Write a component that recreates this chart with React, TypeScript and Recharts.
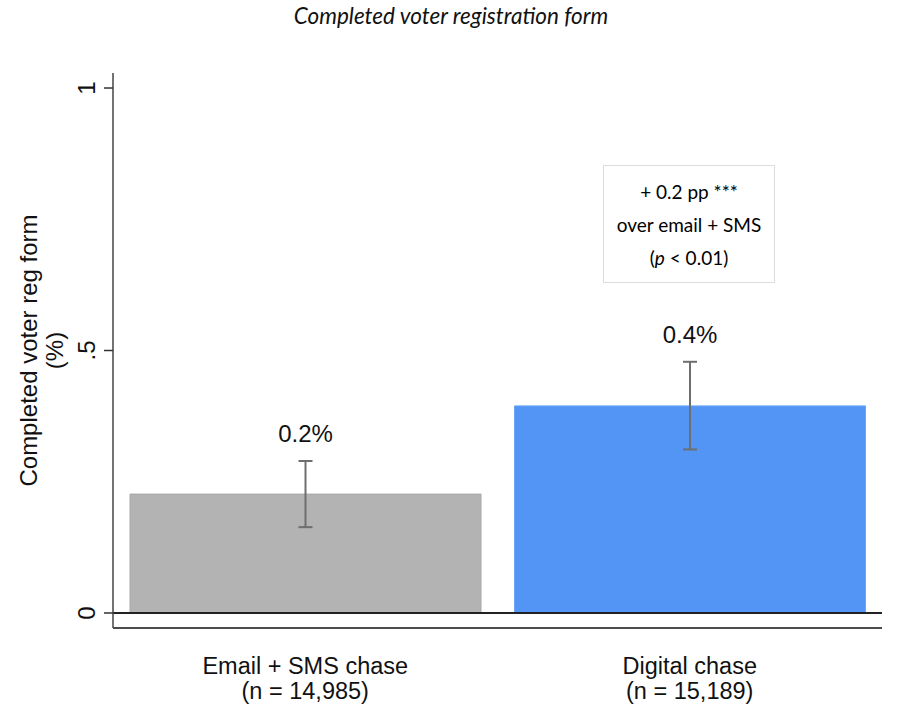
import React from 'react';
import { BarChart, Bar, XAxis, YAxis, ErrorBar, ReferenceLine, LabelList, Cell, Label } from 'recharts';

const categories = ['Email + SMS chase', 'Digital chase'];
const sampleSizes = ['(n = 14,985)', '(n = 15,189)'];
const values = [0.2265, 0.3945];
const errLow = [0.063, 0.083];
const errHigh = [0.063, 0.084];
const barColors = ['#b3b3b3', '#5395f5'];
const barStrokes = ['#a8a8a8', '#6ba6f6'];
const yTicks = [0, 0.5, 1];
const yTickLabels = ['0', '.5', '1'];
const yDomain = [-0.0286, 1.0286];
const titleText = 'Completed voter registration form';
const yLabelLines = ['Completed voter reg form', '(%)'];
const noteLines = ['+ 0.2 pp ***', 'over email + SMS'];

const data = categories.map((c, i) => ({
  name: c,
  n: sampleSizes[i],
  value: values[i],
  err: [errLow[i], errHigh[i]],
}));

const AX_FONT = '"Liberation Sans", Arial, Helvetica, sans-serif';

const XTick = (props: any) => {
  const { x, y, index } = props;
  return (
    <g>
      <text x={x} y={y + 46} textAnchor="middle" fontFamily={AX_FONT} fontSize={23.5} fill="#111">
        {categories[index]}
      </text>
      <text x={x} y={y + 71} textAnchor="middle" fontFamily={AX_FONT} fontSize={23.5} fill="#111">
        {sampleSizes[index]}
      </text>
    </g>
  );
};

const YTick = (props: any) => {
  const { x, y, payload } = props;
  const i = yTicks.indexOf(payload.value);
  const tx = x - 9;
  return (
    <text
      x={tx}
      y={y}
      transform={`rotate(-90, ${tx}, ${y})`}
      textAnchor="middle"
      fontFamily={AX_FONT}
      fontSize={24}
      fill="#111"
    >
      {i >= 0 ? yTickLabels[i] : ''}
    </text>
  );
};

const YLabel = (props: any) => {
  const vb = props.viewBox || {};
  const cy = (vb.y ?? 73) + (vb.height ?? 555) / 2;
  const x1 = 37;
  const x2 = 63;
  return (
    <g>
      <text x={x1} y={cy} transform={`rotate(-90, ${x1}, ${cy})`} textAnchor="middle" fontFamily={AX_FONT} fontSize={24} fill="#111">
        {yLabelLines[0]}
      </text>
      <text x={x2} y={cy} transform={`rotate(-90, ${x2}, ${cy})`} textAnchor="middle" fontFamily={AX_FONT} fontSize={24} fill="#111">
        {yLabelLines[1]}
      </text>
    </g>
  );
};

const ValueLabel = (props: any) => {
  const { x, y, width, height, value, index } = props;
  const v = Number(value);
  const pxPerUnit = Math.abs(height) / v;
  const errTop = y - errHigh[index] * pxPerUnit;
  return (
    <text x={x + width / 2} y={errTop - 19} textAnchor="middle" fontFamily={AX_FONT} fontSize={24} fill="#111">
      {(v).toFixed(1) + '%'}
    </text>
  );
};

export default function App() {
  return (
    <div style={{ position: 'absolute', left: 0, top: 0, width: 900, height: 704, background: '#fff' }}>
      <div
        style={{
          position: 'absolute',
          left: 0,
          top: 3,
          width: 902,
          textAlign: 'center',
          fontFamily: 'Lato, "Open Sans", sans-serif',
          fontStyle: 'italic',
          fontSize: 22.5,
          lineHeight: '26px',
          color: '#111',
        }}
      >
        {titleText}
      </div>
      <BarChart
        width={900}
        height={704}
        data={data}
        margin={{ top: 73, right: 18, bottom: 0, left: 0 }}
        barCategoryGap={17}
      >
        <XAxis
          dataKey="name"
          tickLine={false}
          tickSize={0}
          tickMargin={0}
          axisLine={{ stroke: '#111', strokeWidth: 1.5 }}
          tick={<XTick />}
          height={76}
          interval={0}
        />
        <YAxis
          type="number"
          domain={yDomain}
          ticks={yTicks}
          width={113}
          tickSize={9}
          tickMargin={0}
          allowDataOverflow
          axisLine={{ stroke: '#444', strokeWidth: 1.5 }}
          tickLine={{ stroke: '#333', strokeWidth: 1.5 }}
          tick={<YTick />}
        >
          <Label content={<YLabel />} />
        </YAxis>
        <Bar dataKey="value" isAnimationActive={false} strokeWidth={1}>
          {data.map((d, i) => (
            <Cell key={d.name} fill={barColors[i]} stroke={barStrokes[i]} />
          ))}
          <ErrorBar dataKey="err" width={7} stroke="#6e6e6e" strokeWidth={2} isAnimationActive={false} />
          <LabelList dataKey="value" content={<ValueLabel />} />
        </Bar>
        <ReferenceLine y={0} stroke="#222" strokeWidth={2} />
      </BarChart>
      <div
        style={{
          position: 'absolute',
          left: 603,
          top: 165,
          width: 170,
          height: 116,
          border: '1.5px solid #dcdcdc',
          display: 'flex',
          flexDirection: 'column',
          justifyContent: 'center',
          alignItems: 'center',
          fontFamily: 'Lato, "Open Sans", sans-serif',
          fontSize: 19,
          lineHeight: '33px',
          color: '#000',
        }}
      >
        <div>{noteLines[0]}</div>
        <div>{noteLines[1]}</div>
        <div>
          (<i>p</i> &lt; 0.01)
        </div>
      </div>
    </div>
  );
}
